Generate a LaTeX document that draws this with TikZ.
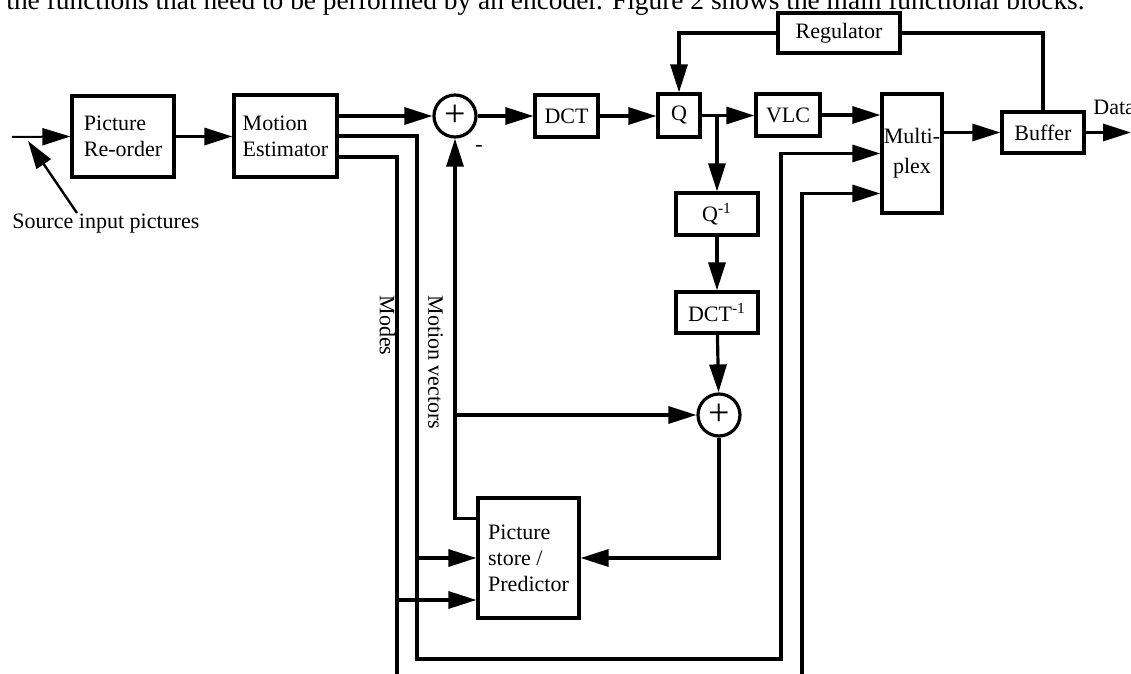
\documentclass[tikz,border=0pt]{standalone}
\usepackage{fontspec}
\setmainfont{Liberation Serif}
\usetikzlibrary{arrows.meta,positioning,calc}

\begin{document}
\begin{tikzpicture}[x=0.5pt, y=-0.5pt, >={Triangle[length=14pt,width=8.5pt]},
    font=\fontsize{11}{13}\selectfont,
    block/.style={draw, rectangle, line width=1.6pt, inner sep=1pt},
    sumnode/.style={draw, circle, line width=1.6pt, minimum size=21pt, inner sep=0pt, font=\fontsize{19}{19}\selectfont},
    wire/.style={line width=1.6pt},
    sidelabel/.style={rotate=-90, inner sep=0pt}]
    \useasboundingbox (0,0) rectangle (1131,674);
    \clip (0,0) rectangle (1131,674);

    % text line cut by the crop
    \node [anchor=base west, inner sep=0pt, font=\fontsize{13.7}{15}\selectfont] (caption) at (6,10) {the functions that need to be performed by an encoder. Figure 2 shows the main functional blocks.};

    \node [block, minimum width=51pt, minimum height=40.5pt, align=left] (reorder) at (123,136.5) {Picture\\Re-order};
    \node [block, minimum width=51.5pt, minimum height=41pt, align=left] (motion) at (285.5,136) {Motion\\Estimator};
    \node [sumnode] (sumA) at (455,116) {+};
    \node [block, minimum width=31.5pt, minimum height=21pt] (dct) at (566.5,116) {DCT};
    \node [block, minimum width=21pt, minimum height=21.5pt] (quant) at (679,115.5) {Q};
    \node [block, minimum width=32pt, minimum height=21pt] (vlc) at (788,115) {VLC};
    \node [block, minimum width=30pt, minimum height=59.5pt, inner sep=0.5pt, align=center] (mux) at (912,153.5) {Multi-\\[2pt]plex};
    \node [block, minimum width=41pt, minimum height=20.5pt] (buffer) at (1043,132.5) {Buffer};
    \node [block, minimum width=61pt, minimum height=20pt] (regulator) at (839,33) {Regulator};
    \node [block, minimum width=41pt, minimum height=21pt] (iquant) at (717,214) {Q\textsuperscript{-1}};
    \node [block, minimum width=41pt, minimum height=20.5pt] (idct) at (717,312.5) {DCT\textsuperscript{-1}};
    \node [sumnode] (sumB) at (719,415) {+};
    \node [block, minimum width=50.5pt, minimum height=60pt, align=left] (store) at (528.5,558) {Picture\\store /\\Predictor};

    \node [anchor=base west, inner sep=0pt] (source) at (12,228) {Source input pictures};
    \node [anchor=base west, inner sep=0pt] (data) at (1093,115) {Data};
    \node [inner sep=0pt] (minus) at (479,148) {-};
    \node [sidelabel] (modes) at (387.5,325.5) {Modes};
    \node [sidelabel] (vectors) at (435.5,362.5) {Motion vectors};

    % forward path
    \coordinate (srcin) at (12,137);
    \coordinate (srctip) at (28,141);
    \draw [->, line width=1pt] (srcin) -- (reorder.west);
    \draw [->, line width=1.2pt] ($(source.north west)+(65,0)$) -- (srctip);
    \draw [->, wire] (reorder.east) -- (motion.west |- reorder.east);
    \draw [->, wire] (motion.east |- sumA) -- (sumA.west);
    \draw [->, wire] (sumA.east) -- (dct.west);
    \draw [->, wire] (dct.east) -- (quant.west |- dct.east);
    \coordinate (qsplit) at (iquant.north |- quant.east);
    \draw [->, wire] (quant.east) -- (vlc.west |- quant.east);
    \draw [->, wire] (qsplit) -- (iquant.north);
    \draw [->, wire] (iquant) -- (idct);
    \draw [->, wire] (idct) -- (sumB);
    \draw [->, wire] (vlc.east) -- (vlc.east -| mux.west);
    \draw [->, wire] (mux.east |- buffer.west) -- (buffer.west);
    \coordinate (dataout) at (1131,132.5);
    \draw [->, wire] (buffer.east) -- (dataout);

    % rate control
    \draw [wire] (buffer.north) |- (regulator.east);
    \draw [->, wire] (regulator.west) -| (quant.north);

    % prediction loop
    \draw [->, wire] (sumB.south) |- (store.east);
    \coordinate (storeout) at ([yshift=-11pt]store.north west);
    \draw [->, wire] (storeout) -| (sumA.south);
    \draw [->, wire] (sumA.south |- sumB.west) -- (sumB.west);

    % motion vectors and modes
    \coordinate (mvbot) at (417,659);
    \coordinate (mvbotr) at (781,659);
    \draw [->, wire] (motion.east) -| (mvbot) -- (mvbotr) |- (mux.west);
    \draw [->, wire] (mvbot |- store.west) -- (store.west);
    \coordinate (modesout) at ([yshift=-10.5pt]motion.east);
    \coordinate (modesbot) at (397,674);
    \coordinate (modesin) at ([yshift=-21pt]store.west);
    \draw [wire] (modesout) -| (modesbot);
    \draw [->, wire] (modesbot |- modesin) -- (modesin);
    \coordinate (ctrlbot) at (802,674);
    \coordinate (muxlow) at ([yshift=-20pt]mux.west);
    \draw [->, wire] (ctrlbot) |- (muxlow);
\end{tikzpicture}
\end{document}
